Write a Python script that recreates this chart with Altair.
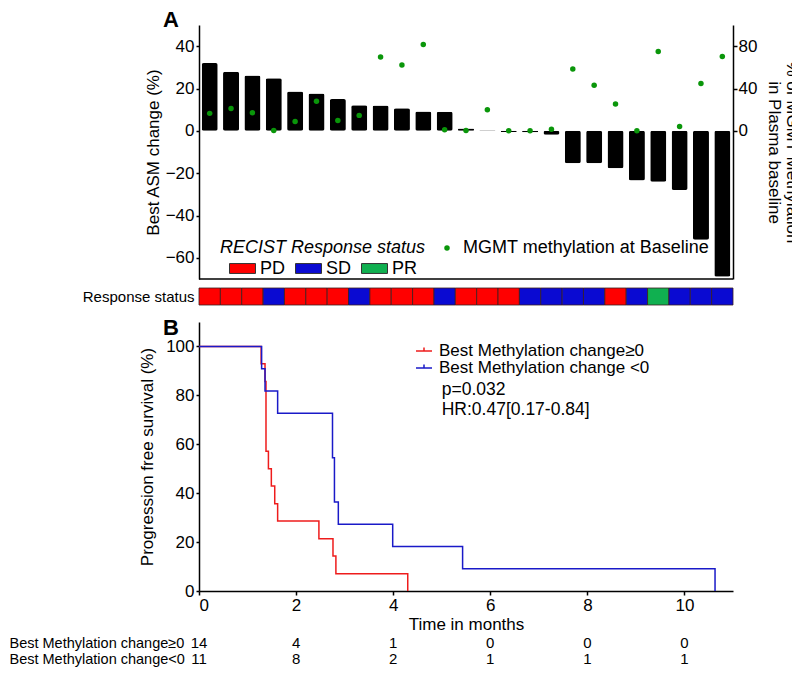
import altair as alt
import pandas as pd

FONT = "Liberation Sans"

# ---------------- Panel A data ----------------
patient_ids = [f"P{i}" for i in range(1, 26)]
asm_change = [32.0, 27.9, 26.1, 24.9, 18.6, 17.6, 15.0, 12.1, 12.0, 10.7, 9.1, 9.0,
              1.1, 0.3, -0.6, -0.7, -1.9, -15.3, -15.3, -17.7, -23.5, -24.1, -27.9,
              -51.5, -68.9]
mgmt_baseline = [16.5, 21.0, 17.1, 0.3, 8.9, 27.9, 9.8, 14.6, 69.8, 62.2, 81.6, 1.0,
                 0.3, 20.0, 0.0, 0.0, 1.6, 58.4, 43.1, 25.4, 0.0, 74.9, 4.1, 44.8, 70.2]
response_status = ["PD", "PD", "PD", "SD", "PD", "PD", "PD", "SD", "PD", "PD", "PD", "SD",
                   "PD", "PD", "PD", "SD", "SD", "SD", "SD", "PD", "SD", "PR", "SD", "SD", "SD"]
status_order = ["PD", "SD", "PR"]
status_colors = ["#FF0000", "#0A0AD2", "#10B050"]
dot_label = "MGMT methylation at Baseline"
strip_label = "Response status"

# ---------------- Panel B data ----------------
km_pos_label = "Best Methylation change\u22650"
km_neg_label = "Best Methylation change <0"
red_times = [0, 1.28, 1.36, 1.38, 1.43, 1.49, 1.56, 1.62, 2.47, 2.76, 2.82, 4.30]
red_surv = [100, 92.9, 85.7, 57.1, 50.0, 42.9, 35.7, 28.6, 21.4, 14.3, 7.1, 0]
blue_times = [0, 1.29, 1.36, 1.62, 2.75, 2.79, 2.87, 3.99, 5.43, 10.63]
blue_surv = [100, 90.9, 81.8, 72.7, 54.5, 36.4, 27.3, 18.2, 9.1, 0]

annot_text = ["p=0.032", "HR:0.47[0.17-0.84]"]
annot_time = [5.0, 5.0]
annot_surv = [82.2, 74.0]

risk_times = [0, 2, 4, 6, 8, 10]
risk_pos = [14, 4, 1, 0, 0, 0]
risk_neg = [11, 8, 2, 1, 1, 1]
risk_row_labels = ["Best Methylation change\u22650", "Best Methylation change<0"]

panel_labels = ["A", "B"]

# ---------------- tables ----------------
wf = pd.DataFrame({
    "id": patient_ids, "asm": asm_change, "mgmt": mgmt_baseline,
    "status": response_status, "strip": strip_label, "dot": dot_label,
})
base_df = pd.DataFrame({"base": [-70]})
km_df = pd.concat([
    pd.DataFrame({"t": red_times, "s": red_surv, "group": km_pos_label}),
    pd.DataFrame({"t": blue_times, "s": blue_surv, "group": km_neg_label}),
], ignore_index=True)
annot_df = pd.DataFrame({"t": annot_time, "s": annot_surv, "label": annot_text})
risk_df = pd.concat([
    pd.DataFrame({"t": risk_times, "n": risk_pos, "row": risk_row_labels[0]}),
    pd.DataFrame({"t": risk_times, "n": risk_neg, "row": risk_row_labels[1]}),
], ignore_index=True)
panel_df = pd.DataFrame({"p": panel_labels})

W, H = 534, 566
A_RANGE = [254, 0]

# ---------------- Panel A: bars (left axis) ----------------
bars = alt.Chart(wf).mark_bar(color="black", cornerRadius=2).encode(
    x=alt.X("id:N", sort=patient_ids,
            scale=alt.Scale(domain=patient_ids, paddingInner=0.25, paddingOuter=0.125),
            axis=None),
    y=alt.Y("asm:Q", scale=alt.Scale(domain=[-70, 50], range=A_RANGE, nice=False),
            axis=alt.Axis(orient="left", values=[-60, -40, -20, 0, 20, 40],
                          title="Best ASM change (%)", tickSize=3, labelPadding=2,
                          titlePadding=3)),
)
bottom_line = alt.Chart(base_df).mark_rule(color="black", strokeWidth=1.5).encode(
    y=alt.Y("base:Q", scale=alt.Scale(domain=[-70, 50], range=A_RANGE, nice=False),
            axis=None),
)

# ---------------- Panel A: dots (right axis) ----------------
dots = alt.Chart(wf).mark_circle(size=30, opacity=1).encode(
    x=alt.X("id:N", sort=patient_ids,
            scale=alt.Scale(type="point", domain=patient_ids, padding=0.5), axis=None),
    y=alt.Y("mgmt:Q", scale=alt.Scale(domain=[-140, 100], range=A_RANGE, nice=False),
            axis=alt.Axis(orient="right", values=[0, 40, 80],
                          title=["% of MGMT Methylation", "in Plasma baseline"],
                          tickSize=4, labelPadding=1, titlePadding=8,
                          titleLineHeight=18)),
    color=alt.Color("dot:N", scale=alt.Scale(domain=[dot_label], range=["#0A960A"]),
                    legend=alt.Legend(orient="none", legendX=239, legendY=214, title=None,
                                      labelFontSize=18, symbolType="circle", symbolSize=30,
                                      labelOffset=7, padding=0, symbolStrokeWidth=0)),
)

# ---------------- Response status strip ----------------
strip = alt.Chart(wf).mark_rect(stroke="#3a2020", strokeWidth=0.8).encode(
    x=alt.X("id:N", sort=patient_ids,
            scale=alt.Scale(domain=patient_ids, paddingInner=0, paddingOuter=0), axis=None),
    y=alt.Y("strip:N", scale=alt.Scale(domain=[strip_label], range=[263, 280],
                                        paddingInner=0, paddingOuter=0),
            axis=alt.Axis(orient="left", domain=False, ticks=False, tickSize=0,
                          labelPadding=5, labelFontSize=15, labelLimit=400, title=None)),
    fill=alt.Fill("status:N", scale=alt.Scale(domain=status_order, range=status_colors),
                  legend=alt.Legend(orient="none", legendX=21, legendY=214,
                                    direction="horizontal",
                                    title="RECIST Response status",
                                    titleFontStyle="italic", titleFontSize=18,
                                    titleFontWeight="normal", titlePadding=-2,
                                    labelFontSize=18,
                                    symbolType="M-1,-0.38H1V0.38H-1Z", symbolSize=676,
                                    symbolStrokeColor="#333333", symbolStrokeWidth=1,
                                    symbolOffset=9, labelOffset=4, columnPadding=0,
                                    gridAlign="none", padding=0)),
)

# ---------------- Panel B: Kaplan-Meier ----------------
km_lines = alt.Chart(km_df).mark_line(interpolate="step-after", strokeWidth=1.5).encode(
    x=alt.X("t:Q", scale=alt.Scale(domain=[0, 11], nice=False),
            axis=alt.Axis(orient="bottom", values=[0, 2, 4, 6, 8, 10],
                          title="Time in months", tickSize=4, labelPadding=2,
                          titlePadding=3)),
    y=alt.Y("s:Q", scale=alt.Scale(domain=[0, 110], range=[566, 297], nice=False),
            axis=alt.Axis(orient="left", values=[0, 20, 40, 60, 80, 100],
                          title="Progression free survival (%)", tickSize=3,
                          labelPadding=2, titlePadding=9)),
    stroke=alt.Stroke("group:N",
                      scale=alt.Scale(domain=[km_pos_label, km_neg_label],
                                      range=["#EE1C1C", "#1A1AC8"]),
                      legend=alt.Legend(orient="none", legendX=216, legendY=317,
                                        title=None, labelFontSize=17,
                                        symbolType="M-1,0H1M0,0V-0.45", symbolSize=256,
                                        symbolStrokeWidth=1.5, labelOffset=6,
                                        rowPadding=-4, padding=0)),
)
km_annot = alt.Chart(annot_df).mark_text(align="left", baseline="middle", fontSize=17.5,
                                         font=FONT, color="black").encode(
    x=alt.X("t:Q", scale=alt.Scale(domain=[0, 11], nice=False), axis=None),
    y=alt.Y("s:Q", scale=alt.Scale(domain=[0, 110], range=[566, 297], nice=False),
            axis=None),
    text="label:N",
)

# ---------------- risk table ----------------
risk = alt.Chart(risk_df).mark_text(fontSize=15, font=FONT, baseline="middle",
                                    color="black").encode(
    x=alt.X("t:Q", scale=alt.Scale(domain=[0, 11], nice=False), axis=None),
    y=alt.Y("row:N", scale=alt.Scale(domain=risk_row_labels, range=[610, 642],
                                      paddingInner=0, paddingOuter=0),
            axis=alt.Axis(orient="left", domain=False, ticks=False, tickSize=0,
                          labelAlign="left", labelPadding=190, labelFontSize=14.5,
                          labelLimit=400, title=None)),
    text="n:Q",
)

# ---------------- panel letters ----------------
letters = alt.Chart(panel_df).mark_text(fontSize=22, fontWeight="bold", font=FONT,
                                        color="black").encode(
    y=alt.Y("p:N", scale=alt.Scale(type="point", domain=panel_labels,
                                    range=[-5, 303], padding=0), axis=None),
    x=alt.value(-28),
    text="p:N",
)

chart = alt.layer(bars, bottom_line, dots, strip, km_lines, km_annot, risk,
                  letters).resolve_scale(
    x="independent", y="independent", color="independent", fill="independent",
    stroke="independent",
).resolve_axis(x="independent", y="independent").resolve_legend(
    color="independent", fill="independent", stroke="independent",
).properties(
    width=W, height=H,
    autosize=alt.AutoSizeParams(type="none"),
    padding={"left": 191, "top": 17, "right": 59, "bottom": 76},
).configure_view(stroke=None).configure_axis(
    labelFont=FONT, titleFont=FONT, labelColor="black", titleColor="black",
    domainColor="black", tickColor="black", domainWidth=1.5, tickWidth=1.5,
    grid=False, labelFontSize=17, titleFontSize=17, titleFontWeight="normal",
).configure_legend(
    labelFont=FONT, titleFont=FONT, labelColor="black", titleColor="black",
    labelLimit=500, titleLimit=500,
)

chart.save("out.html", embed_options={"renderer": "svg", "actions": False})
